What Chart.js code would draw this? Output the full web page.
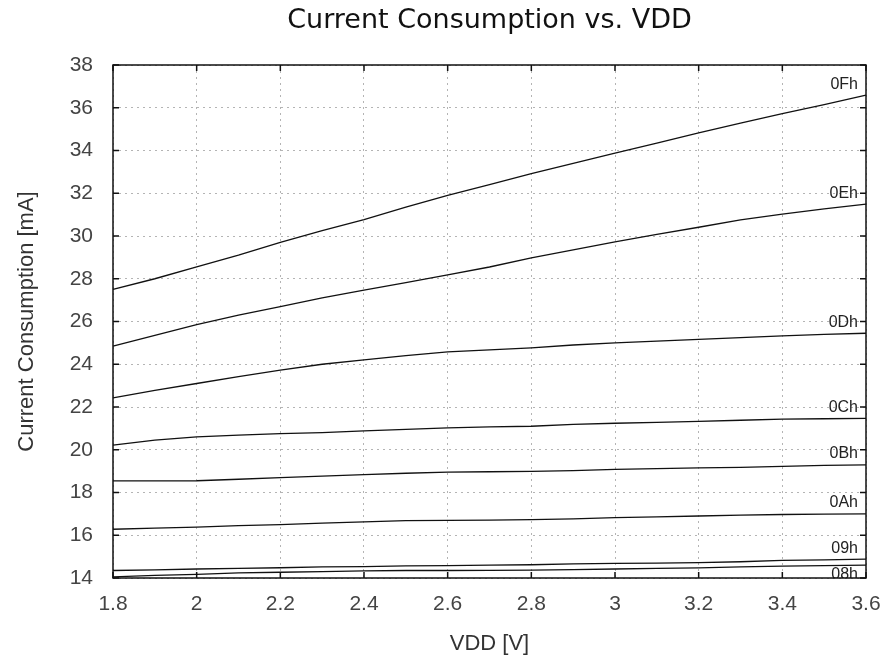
<!DOCTYPE html>
<html>
<head>
<meta charset="utf-8">
<script src="https://cdn.jsdelivr.net/npm/chart.js@4/dist/chart.umd.min.js"></script>
<style>
  html, body { margin: 0; padding: 0; background: #fff; }
  #wrap { width: 881px; height: 660px; }
</style>
</head>
<body>
<div id="wrap"><canvas id="chart" width="881" height="660"></canvas></div>
<script>
// supply voltage (V)
const vdd = [1.8, 1.9, 2.0, 2.1, 2.2, 2.3, 2.4, 2.5, 2.6, 2.7, 2.8, 2.9, 3.0, 3.1, 3.2, 3.3, 3.4, 3.5, 3.6];

// current per setting (mA)
const i0F = [27.5, 28.0, 28.55, 29.1, 29.7, 30.25, 30.77, 31.35, 31.9, 32.4, 32.92, 33.4, 33.88, 34.35, 34.82, 35.28, 35.73, 36.15, 36.59];
const i0E = [24.85, 25.35, 25.85, 26.3, 26.7, 27.1, 27.47, 27.82, 28.18, 28.55, 28.98, 29.35, 29.73, 30.08, 30.41, 30.75, 31.02, 31.27, 31.49];
const i0D = [22.43, 22.78, 23.1, 23.42, 23.73, 24.0, 24.2, 24.4, 24.58, 24.67, 24.77, 24.9, 25.0, 25.08, 25.16, 25.25, 25.33, 25.4, 25.45];
const i0C = [20.22, 20.45, 20.6, 20.68, 20.75, 20.8, 20.88, 20.95, 21.02, 21.07, 21.1, 21.19, 21.24, 21.28, 21.33, 21.38, 21.43, 21.45, 21.47];
const i0B = [18.54, 18.54, 18.55, 18.62, 18.7, 18.77, 18.84, 18.9, 18.95, 18.97, 18.99, 19.02, 19.08, 19.12, 19.15, 19.18, 19.22, 19.27, 19.29];
const i0A = [16.28, 16.33, 16.38, 16.45, 16.5, 16.57, 16.63, 16.68, 16.7, 16.71, 16.73, 16.77, 16.82, 16.86, 16.9, 16.94, 16.97, 16.99, 17.0];
const i09 = [14.35, 14.38, 14.42, 14.45, 14.48, 14.52, 14.53, 14.57, 14.58, 14.6, 14.62, 14.66, 14.68, 14.7, 14.72, 14.76, 14.82, 14.85, 14.88];
const i08 = [14.05, 14.12, 14.17, 14.24, 14.27, 14.3, 14.33, 14.35, 14.35, 14.36, 14.37, 14.39, 14.42, 14.45, 14.47, 14.52, 14.56, 14.58, 14.6];

const settings = ['0Fh', '0Eh', '0Dh', '0Ch', '0Bh', '0Ah', '09h', '08h'];
const currents = [i0F, i0E, i0D, i0C, i0B, i0A, i09, i08];

const xTickLabels = ['1.8', '2', '2.2', '2.4', '2.6', '2.8', '3', '3.2', '3.4', '3.6'];
const yTickLabels = ['14', '16', '18', '20', '22', '24', '26', '28', '30', '32', '34', '36', '38'];

const datasets = settings.map((name, k) => ({
    label: name,
    data: vdd.map((v, j) => ({ x: v, y: currents[k][j] })),
    borderColor: '#111',
    borderWidth: 1.3,
    pointRadius: 0,
    tension: 0,
    clip: 2
}));

// frame + inward ticks on all four sides
const framePlugin = {
    id: 'frame',
    afterDraw(c) {
        const ctx = c.ctx;
        const a = c.chartArea;
        const xs = c.scales.x, ys = c.scales.y;
        ctx.save();
        ctx.strokeStyle = '#111';
        ctx.lineWidth = 1.5;
        ctx.strokeRect(a.left, a.top, a.right - a.left, a.bottom - a.top);
        ctx.beginPath();
        xs.ticks.forEach(t => {
            const px = xs.getPixelForValue(t.value);
            ctx.moveTo(px, a.bottom); ctx.lineTo(px, a.bottom - 6);
            ctx.moveTo(px, a.top); ctx.lineTo(px, a.top + 6);
        });
        ys.ticks.forEach(t => {
            const py = ys.getPixelForValue(t.value);
            ctx.moveTo(a.left, py); ctx.lineTo(a.left + 6, py);
            ctx.moveTo(a.right, py); ctx.lineTo(a.right - 6, py);
        });
        ctx.stroke();
        ctx.restore();
    }
};

// curve names at the right end of each line
const namePlugin = {
    id: 'names',
    afterDatasetsDraw(c) {
        const ctx = c.ctx;
        const a = c.chartArea;
        ctx.save();
        ctx.beginPath();
        ctx.rect(a.left, a.top, a.right - a.left, a.bottom - a.top);
        ctx.clip();
        ctx.font = '16px "Liberation Sans", Arial, sans-serif';
        ctx.fillStyle = '#222';
        ctx.textAlign = 'right';
        ctx.textBaseline = 'middle';
        let prevY = -100;
        c.data.datasets.forEach((ds, k) => {
            const pts = c.getDatasetMeta(k).data;
            const end = pts[pts.length - 1];
            let ty = end.y - 11;
            if (ty - prevY < 16) ty = end.y + 9;
            ctx.fillText(ds.label, a.right - 8, ty);
            prevY = ty;
        });
        ctx.restore();
    }
};

new Chart(document.getElementById('chart'), {
    type: 'line',
    data: { datasets: datasets },
    plugins: [framePlugin, namePlugin],
    options: {
        responsive: false,
        animation: false,
        layout: { padding: { left: 0, right: 15, top: 0, bottom: 0 } },
        plugins: {
            legend: { display: false },
            tooltip: { enabled: false },
            title: {
                display: true,
                text: 'Current Consumption vs. VDD',
                fullSize: false,
                color: '#111',
                font: { family: '"DejaVu Sans", sans-serif', size: 27, weight: 'normal' },
                padding: { top: 5, bottom: 27.6 }
            }
        },
        scales: {
            x: {
                type: 'linear',
                min: 1.8,
                max: 3.6,
                afterFit: s => {
                    s.height = 82;
                    s.paddingLeft = 0;
                    s.paddingRight = 0;
                },
                ticks: {
                    stepSize: 0.2,
                    padding: 14,
                    color: '#444',
                    font: { family: '"Liberation Sans", Arial, sans-serif', size: 21 },
                    maxRotation: 0,
                    callback: (v, i) => xTickLabels[i]
                },
                grid: { color: '#b4b4b4', lineWidth: 1, drawTicks: false },
                border: { display: false, dash: [2, 4] },
                title: {
                    display: true,
                    text: 'VDD [V]',
                    color: '#333',
                    font: { family: '"Liberation Sans", Arial, sans-serif', size: 22 },
                    padding: { top: 0, bottom: 3 }
                }
            },
            y: {
                min: 14,
                max: 38,
                afterFit: s => { s.width = 113; },
                ticks: {
                    stepSize: 2,
                    padding: 20,
                    color: '#444',
                    font: { family: '"Liberation Sans", Arial, sans-serif', size: 21 },
                    callback: (v, i) => yTickLabels[i]
                },
                grid: { color: '#b4b4b4', lineWidth: 1, drawTicks: false },
                border: { display: false, dash: [2, 4] },
                title: {
                    display: true,
                    text: 'Current Consumption [mA]',
                    color: '#333',
                    font: { family: '"Liberation Sans", Arial, sans-serif', size: 22 },
                    padding: { top: 14, bottom: 0 }
                }
            }
        }
    }
});
</script>
</body>
</html>
